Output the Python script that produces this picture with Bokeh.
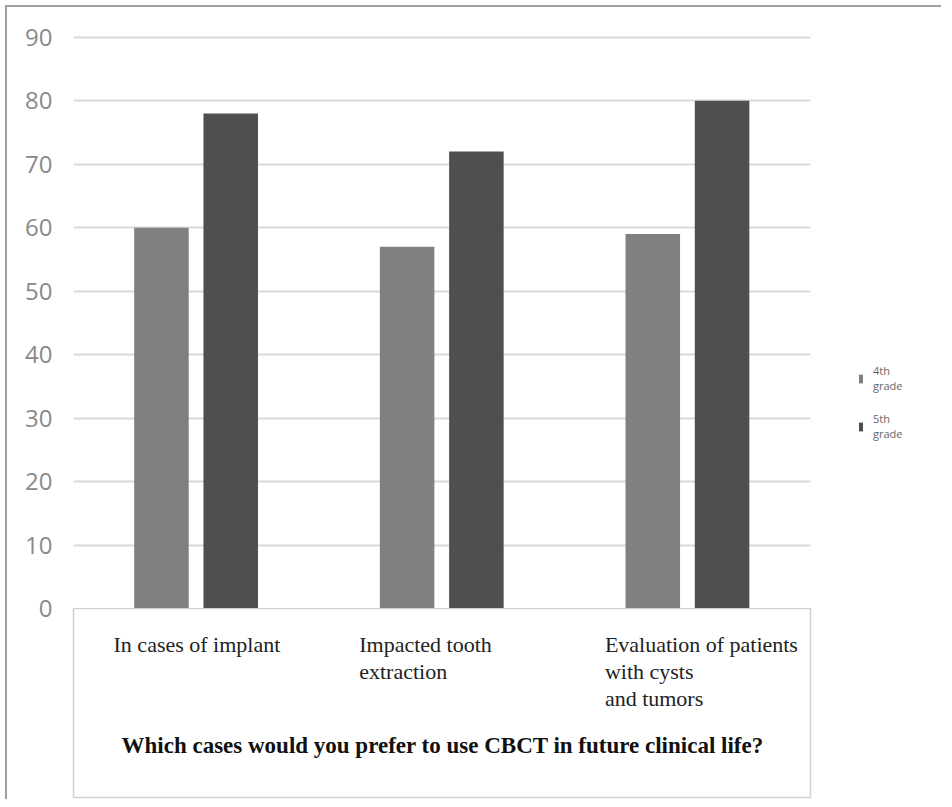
from bokeh.plotting import figure
from bokeh.models import (ColumnDataSource, FactorRange, Range1d, Legend, LegendItem,
                          Label, FixedTicker)
from bokeh.transform import dodge
from bokeh.layouts import column, row
from bokeh.core.properties import value
from bokeh.embed import file_html
from bokeh.resources import INLINE

# ---- data ----
categories = ["In cases of implant", "Impacted tooth extraction",
              "Evaluation of patients with cysts and tumors"]
category_labels = ["In cases of implant", "Impacted tooth\nextraction",
                   "Evaluation of patients\nwith cysts\nand tumors"]
grade4 = [60, 57, 59]
grade5 = [78, 72, 80]
series_names = ["4th\ngrade", "5th\ngrade"]
series_colors = ["#808080", "#4f4f4f"]
y_ticks = [0, 10, 20, 30, 40, 50, 60, 70, 80, 90]
title_text = "Which cases would you prefer to use CBCT in future clinical life?"

src = ColumnDataSource(dict(cat=categories, g4=grade4, g5=grade5, lab=category_labels))

# ---- top chart ----
p = figure(x_range=FactorRange(*categories, range_padding=0), y_range=Range1d(0, 90.3),
           width=806, height=617, min_border_left=66, min_border_right=3,
           min_border_top=28, min_border_bottom=16,
           output_backend="svg", toolbar_location=None)
p.outline_line_color = None
p.border_fill_alpha = 0
p.background_fill_alpha = 0
p.xaxis.visible = False
p.xgrid.visible = False
p.ygrid.grid_line_color = "#d9d9d9"
p.ygrid.grid_line_width = 2
p.yaxis.ticker = FixedTicker(ticks=y_ticks)
p.yaxis.axis_line_color = None
p.yaxis.major_tick_line_color = None
p.yaxis.minor_tick_line_color = None
p.yaxis.major_label_standoff = 15
p.yaxis.major_label_text_font = "Open Sans"
p.yaxis.major_label_text_font_size = "24px"
p.yaxis.major_label_text_color = "#8a8a8a"

p.vbar(x=dodge("cat", -0.142, range=p.x_range), top="g4", width=0.222, source=src,
       fill_color=series_colors[0], line_color=None)
p.vbar(x=dodge("cat", 0.14, range=p.x_range), top="g5", width=0.222, source=src,
       fill_color=series_colors[1], line_color=None)

# ---- bottom label box ----
p2 = figure(x_range=p.x_range, y_range=Range1d(189, 0),
            width=806, height=191, min_border_left=66, min_border_right=3,
            min_border_top=0, min_border_bottom=2,
            output_backend="svg", toolbar_location=None)
p2.xaxis.visible = False
p2.yaxis.visible = False
p2.grid.visible = False
p2.border_fill_alpha = 0
p2.background_fill_alpha = 0
p2.outline_line_color = "#d0d0d0"
p2.outline_line_width = 1.5
p2.styles = {"margin-top": "-16px"}

p2.text(x=dodge("cat", -0.337, range=p2.x_range), y=23, text="lab", source=src,
        text_font=value("Liberation Serif"), text_font_size="22px",
        text_color="#222222", text_baseline="top", text_align="left",
        text_line_height=1.08)

p2.add_layout(Label(x=48, y=137, x_units="screen", y_units="data", text=title_text,
                    text_font="Liberation Serif", text_font_style="bold",
                    text_font_size="23px", text_color="#111111",
                    text_baseline="middle", text_align="left"))

# ---- legend panel (zero-height proxy bars provide the legend keys) ----
lf = figure(x_range=Range1d(0, 1), y_range=Range1d(0, 1), width=128, height=617,
            min_border_left=0, min_border_right=0, min_border_top=28, min_border_bottom=16,
            output_backend="svg", toolbar_location=None)
lf.axis.visible = False
lf.grid.visible = False
lf.outline_line_color = None
lf.border_fill_alpha = 0
lf.background_fill_alpha = 0
lr = [lf.vbar(x=[0], top=[0], bottom=[0], width=0.01, fill_color=c, line_color=None)
      for c in series_colors]
legend = Legend(items=[LegendItem(label=n, renderers=[r]) for n, r in zip(series_names, lr)],
                location=(45, 167), glyph_width=5, glyph_height=11,
                label_text_font="Open Sans", label_text_font_size="11px",
                label_text_line_height=1.5,
                label_text_color="#666666", label_standoff=10, spacing=18,
                padding=0, margin=0, border_line_color=None, background_fill_alpha=0)
lf.add_layout(legend, "center")

layout = row(column(p, p2, spacing=0), lf, spacing=0,
             styles={"border-left": "2px solid #a0a0a0", "border-top": "2px solid #a0a0a0",
                     "margin-left": "5px", "margin-top": "5px"})

open("out.html", "w").write(file_html(layout, INLINE))
